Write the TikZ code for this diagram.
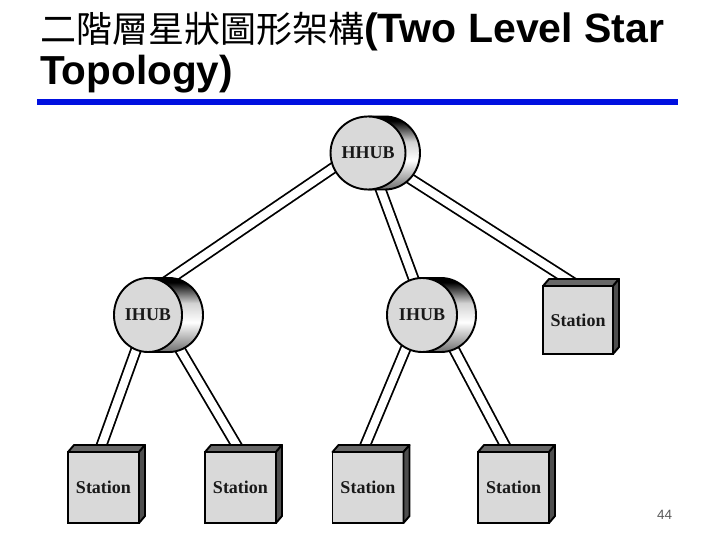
\documentclass[tikz,border=0pt]{standalone}
\usepackage{fontspec}
\setmainfont{Liberation Serif}
\newfontfamily\cjk{Noto Sans CJK TC}
\newfontfamily\arial{Liberation Sans}
\usetikzlibrary{shapes.geometric,backgrounds}
\definecolor{rulecol}{RGB}{0,16,224}
\definecolor{facegray}{RGB}{217,217,217}
\definecolor{topgray}{RGB}{104,104,104}
\definecolor{sidegray}{RGB}{78,78,78}
\pgfdeclareverticalshading{hubside}{100bp}{color(0bp)=(black!85); color(22bp)=(gray!70!black); color(45bp)=(white); color(58bp)=(gray!35); color(72bp)=(black); color(100bp)=(black)}
\newcommand\hubback[5]{%
  \path[hubsidestyle] (#1,#2+#4) -- (#1+#5,#2+#4)
    arc[start angle=90,end angle=-90,x radius=#3,y radius=#4]
    -- (#1,#2-#4) -- cycle;}
\newcommand\stfaces[1]{%
  \draw[topface] (#1.north west) -- ([shift={(6,7)}]#1.north west)
    -- ([shift={(6,7)}]#1.north east) -- (#1.north east) -- cycle;
  \draw[sideface] (#1.north east) -- ([shift={(6,7)}]#1.north east)
    -- ([shift={(6,7)}]#1.south east) -- (#1.south east) -- cycle;}
\begin{document}
\begin{tikzpicture}[x=1pt,y=1pt,
  hubsidestyle/.style={draw=black,line width=1.9pt,shading=hubside,line join=round},
  hub/.style={ellipse,draw=black,line width=1.9pt,fill=facegray,inner sep=0pt,outer sep=0pt,
    font=\fontsize{18}{18}\selectfont\bfseries,text=black!90},
  stationbox/.style={rectangle,draw=black,line width=1.9pt,fill=facegray,inner sep=0pt,outer sep=0pt,
    minimum width=71pt,minimum height=71pt,font=\fontsize{18}{18}\selectfont\bfseries,text=black!90},
  topface/.style={draw=black,line width=1.9pt,fill=topgray,line join=round},
  sideface/.style={draw=black,line width=1.9pt,fill=sidegray,line join=round},
  conn/.style={draw=black,line width=1.8pt,double=white,double distance=8pt,
    shorten <=-4pt,shorten >=-4pt}]
\useasboundingbox (0,0) rectangle (720,-540);
% title
\node[anchor=base west,inner sep=0pt] (t1) at (40,-43)
  {\fontsize{36}{36}\selectfont\cjk 二階層星狀圖形架構\fontsize{41}{40}\selectfont\arial\bfseries(Two Level Star};
\node[anchor=base west,inner sep=0pt] (t2) at (40,-85)
  {\fontsize{40.5}{40}\selectfont\arial\bfseries Topology)};
\fill[rulecol] (37,-99) rectangle (678,-105);
% hubs
\hubback{368}{-153}{35}{36.5}{17}
\node[hub,minimum width=70pt,minimum height=73pt] (hh) at (368,-153) {HHUB};
\hubback{148}{-315}{34}{37}{21}
\node[hub,minimum width=68pt,minimum height=74pt] (ih1) at (148,-315) {IHUB};
\hubback{422}{-315}{35}{37}{19}
\node[hub,minimum width=70pt,minimum height=74pt] (ih2) at (422,-315) {IHUB};
% stations
\node[stationbox,minimum width=70pt,minimum height=68pt] (sr) at (578,-320) {Station};
\stfaces{sr}
\node[stationbox] (s1) at (103.5,-487.5) {Station};
\stfaces{s1}
\node[stationbox] (s2) at (240.5,-487.5) {Station};
\stfaces{s2}
\node[stationbox] (s3) at (368,-487.5) {Station};
\stfaces{s3}
\node[stationbox] (s4) at (513.5,-487.5) {Station};
\stfaces{s4}
% page number
\node[inner sep=0pt,font=\arial\fontsize{13.5}{13.5}\selectfont,text=black!65] (pg) at (664.5,-515) {44};
% connectors
\begin{scope}[on background layer]
  \draw[conn] (hh.203) -- (ih1.63);
  \draw[conn] (hh.289) -- (ih2.103);
  \draw[conn] (hh.-31) -- (sr.north);
  \draw[conn] (ih1.251) -- (s1.97);
  \draw[conn] (ih1.317) -- (s2.north);
  \draw[conn] (ih2.244) -- (s3.99);
  \draw[conn] (ih2.318) -- (s4.98);
\end{scope}
\end{tikzpicture}
\end{document}
